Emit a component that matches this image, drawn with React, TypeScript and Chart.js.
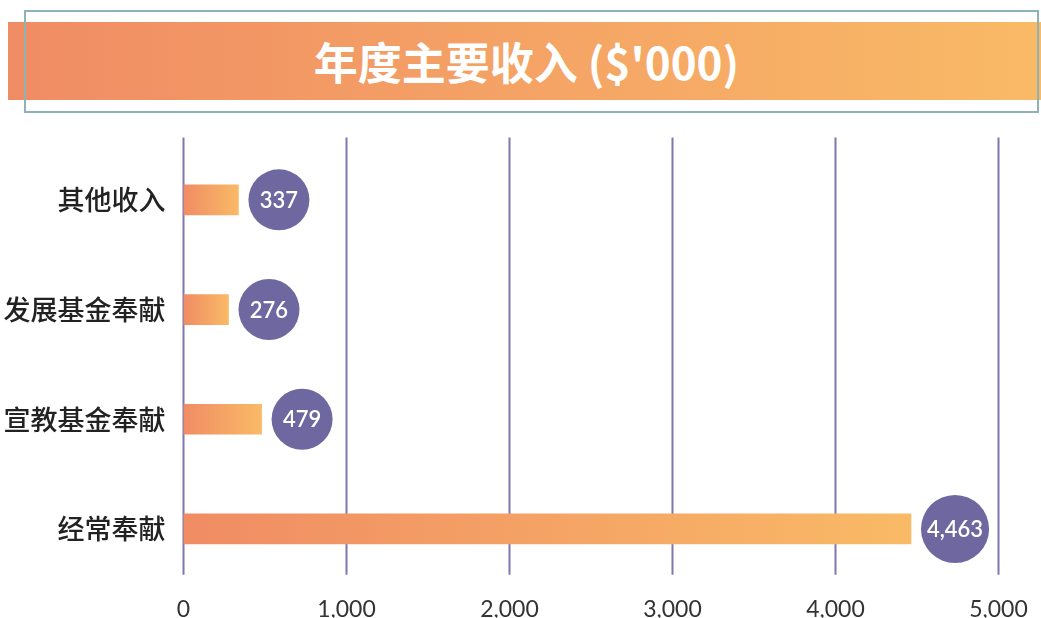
import React, { useEffect, useRef } from "react";
import { Chart, registerables } from "chart.js";

Chart.register(...registerables);

const title = "年度主要收入 ($'000)";
const categories = ["其他收入", "发展基金奉献", "宣教基金奉献", "经常奉献"];
const values = [337, 276, 479, 4463];
const xTicks = [0, 1000, 2000, 3000, 4000, 5000];

const GRAD_START = "#f08c64";
const GRAD_END = "#f9ba66";
const CIRCLE = "#6f68a0";
const GRID = "#7f77ad";
const NUM_FONT = "Lato, 'Noto Sans', sans-serif";
const CJK_FONT = "'Noto Sans CJK SC', sans-serif";

const gridPlugin = {
  id: "customGrid",
  beforeDatasetsDraw(chart: any) {
    const { ctx, chartArea, scales } = chart;
    ctx.save();
    ctx.strokeStyle = GRID;
    ctx.lineWidth = 2;
    xTicks.forEach((t) => {
      const x = scales.x.getPixelForValue(t);
      ctx.beginPath();
      ctx.moveTo(x, chartArea.top - 7.5);
      ctx.lineTo(x, chartArea.bottom - 9);
      ctx.stroke();
    });
    ctx.restore();
  },
};

const bubblePlugin = {
  id: "bubbles",
  afterDatasetsDraw(chart: any) {
    const { ctx } = chart;
    const meta = chart.getDatasetMeta(0);
    ctx.save();
    ctx.font = `600 22px ${NUM_FONT}`;
    ctx.textAlign = "center";
    ctx.textBaseline = "middle";
    meta.data.forEach((bar: any, i: number) => {
      const text = values[i].toLocaleString("en-US");
      const tw = ctx.measureText(text).width;
      const r = Math.max(30.5, tw / 2 + 6);
      const cx = bar.x + 10 + r;
      const cy = bar.y;
      ctx.beginPath();
      ctx.arc(cx, cy, r, 0, Math.PI * 2);
      ctx.fillStyle = CIRCLE;
      ctx.fill();
      ctx.fillStyle = "#ffffff";
      ctx.fillText(text, cx, cy + 1);
    });
    ctx.restore();
  },
};

export default function App() {
  const ref = useRef<HTMLCanvasElement>(null);

  useEffect(() => {
    if (!ref.current) return;
    const chart = new Chart(ref.current, {
      type: "bar",
      data: {
        labels: categories,
        datasets: [
          {
            data: values,
            barThickness: 30,
            borderWidth: 0,
            backgroundColor: (c: any) => {
              const ch = c.chart;
              if (!ch.chartArea || !ch.scales.x) return GRAD_START;
              const x0 = ch.scales.x.getPixelForValue(0);
              const x1 = ch.scales.x.getPixelForValue(values[c.dataIndex] ?? 1);
              const g = ch.ctx.createLinearGradient(x0, 0, Math.max(x1, x0 + 1), 0);
              g.addColorStop(0, GRAD_START);
              g.addColorStop(1, GRAD_END);
              return g;
            },
          },
        ],
      },
      options: {
        indexAxis: "y",
        responsive: false,
        animation: false,
        layout: { padding: { top: 145, right: 42.5, left: 0, bottom: 0 } },
        plugins: {
          legend: { display: false },
          tooltip: { enabled: false },
          title: { display: false },
        },
        scales: {
          x: {
            min: 0,
            max: 5000,
            afterFit: (s: any) => {
              s.height = 34;
            },
            afterBuildTicks: (s: any) => {
              s.ticks = xTicks.map((v) => ({ value: v }));
            },
            grid: { display: false, drawTicks: false },
            border: { display: false },
            ticks: {
              padding: 12,
              color: "#333333",
              font: { family: NUM_FONT, size: 23 },
              callback: (v: any) => Number(v).toLocaleString("en-US"),
            },
          },
          y: {
            afterFit: (s: any) => {
              s.width = 183.5;
            },
            grid: { display: false, drawTicks: false },
            border: { display: false },
            ticks: {
              padding: 18,
              color: "#222222",
              font: { family: CJK_FONT, size: 27, weight: "500" },
            },
          },
        },
      },
      plugins: [gridPlugin, bubblePlugin],
    } as any);
    return () => chart.destroy();
  }, []);

  return (
    <div
      style={{
        position: "fixed",
        left: 0,
        top: 0,
        width: 1041,
        height: 618,
        background: "#ffffff",
        overflow: "hidden",
      }}
    >
      <div
        style={{
          position: "absolute",
          left: 8,
          top: 22,
          width: 1033,
          height: 78,
          background: `linear-gradient(to right, ${GRAD_START}, ${GRAD_END})`,
          display: "flex",
          alignItems: "center",
          justifyContent: "center",
          color: "#ffffff",
          fontFamily: CJK_FONT,
          fontWeight: 700,
          fontSize: 44,
        }}
      >
        <span style={{ marginLeft: 4, lineHeight: 1 }}>{title}</span>
      </div>
      <div
        style={{
          position: "absolute",
          left: 24,
          top: 10,
          width: 1011,
          height: 99,
          border: "2px solid #8db3b7",
        }}
      />
      <canvas
        ref={ref}
        width={1041}
        height={618}
        style={{ position: "absolute", left: 0, top: 0, width: 1041, height: 618 }}
      />
    </div>
  );
}
